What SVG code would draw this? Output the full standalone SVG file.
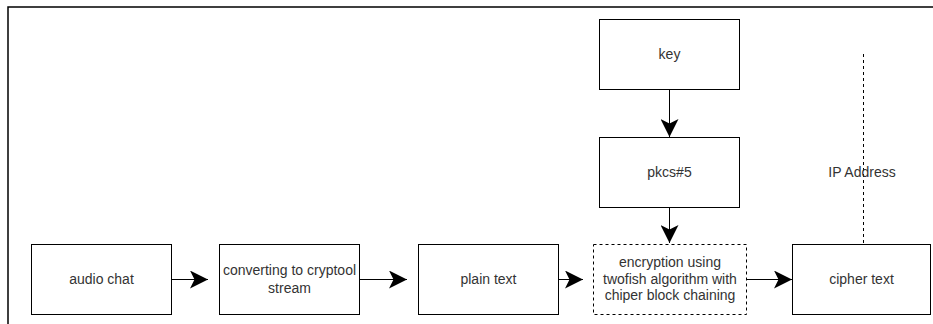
<svg xmlns="http://www.w3.org/2000/svg" width="933" height="324" viewBox="0 0 933 324">
  <style>
    .box { fill: #ffffff; stroke: #000000; stroke-width: 1; }
    .dash { stroke-dasharray: 3 3; }
    .lbl { font-family: "Liberation Sans", Arial, sans-serif; font-size: 14px; fill: #333333; text-anchor: middle; }
    .edge { fill: none; stroke: #000000; stroke-width: 1; }
  </style>
  <defs>
    <marker id="arrow" viewBox="0 0 18 18" refX="18" refY="9" markerWidth="18" markerHeight="18" markerUnits="userSpaceOnUse" orient="auto">
      <path d="M0,0 L18,9 L0,18 L4.5,9 Z" fill="#000000"/>
    </marker>
  </defs>

  <rect width="933" height="324" fill="#ffffff"/>
  <!-- page frame -->
  <path d="M8,324 V7 H933" fill="none" stroke="#000000" stroke-width="1.5"/>

  <g id="connectors">
    <line class="edge" x1="172" y1="279.5" x2="208" y2="279.5" marker-end="url(#arrow)"/>
    <line class="edge" x1="360" y1="279.5" x2="407" y2="279.5" marker-end="url(#arrow)"/>
    <line class="edge" x1="559" y1="279.5" x2="583" y2="279.5" marker-end="url(#arrow)"/>
    <line class="edge" x1="747" y1="279.5" x2="792" y2="279.5" marker-end="url(#arrow)"/>
    <line class="edge" x1="669.5" y1="90" x2="669.5" y2="137" marker-end="url(#arrow)"/>
    <line class="edge" x1="669.5" y1="208" x2="669.5" y2="243" marker-end="url(#arrow)"/>
    <line class="edge dash" x1="863.5" y1="54" x2="863.5" y2="244"/>
    <text class="lbl" x="862" y="177">IP Address</text>
  </g>

  <g id="audio-chat">
    <rect class="box" x="31.5" y="244.5" width="140" height="70"/>
    <text class="lbl" x="101.5" y="284">audio chat</text>
  </g>
  <g id="converting">
    <rect class="box" x="219.5" y="244.5" width="140" height="70"/>
    <text class="lbl" x="289.5" y="275">converting to cryptool</text>
    <text class="lbl" x="289.5" y="293">stream</text>
  </g>
  <g id="plain-text">
    <rect class="box" x="418.5" y="244.5" width="140" height="70"/>
    <text class="lbl" x="488.5" y="284">plain text</text>
  </g>
  <g id="encryption">
    <rect class="box dash" x="593.5" y="244.5" width="153" height="70"/>
    <text class="lbl" x="670" y="267">encryption using</text>
    <text class="lbl" x="670" y="283.5">twofish algorithm with</text>
    <text class="lbl" x="670" y="300">chiper block chaining</text>
  </g>
  <g id="cipher-text">
    <rect class="box" x="792.5" y="244.5" width="138" height="70"/>
    <text class="lbl" x="861.5" y="284">cipher text</text>
  </g>
  <g id="key">
    <rect class="box" x="599.5" y="19.5" width="140" height="70"/>
    <text class="lbl" x="669.5" y="59">key</text>
  </g>
  <g id="pkcs5">
    <rect class="box" x="599.5" y="137.5" width="140" height="70"/>
    <text class="lbl" x="669.5" y="177">pkcs#5</text>
  </g>
</svg>
